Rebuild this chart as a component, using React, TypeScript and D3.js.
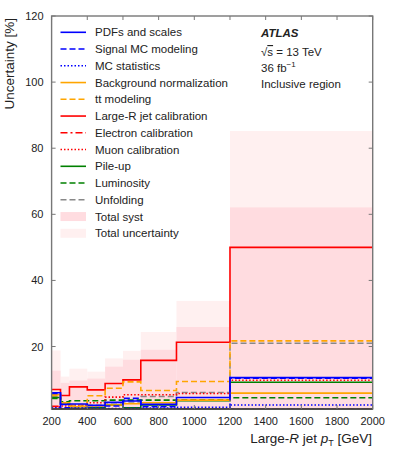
import React from "react";
import * as d3 from "d3";

// bin edges in GeV
const binEdges = [200, 250, 300, 400, 500, 600, 700, 900, 1200, 2000];

// uncertainties [%] per bin
const pdfScales = [6.0, 2.5, 2.6, 2.2, 3.1, 3.5, 2.5, 4.6, 10.6];
const signalMC = [5.8, 1.5, 1.2, 1.0, 2.0, 4.3, 1.8, 1.0, 10.4];
const mcStats = [1.5, 1.2, 1.4, 1.5, 1.2, 1.3, 1.4, 1.6, 2.3];
const bkgNorm = [5.4, 3.0, 1.8, 2.0, 2.3, 2.7, 3.0, 3.8, 5.9];
const ttModeling = [5.2, 2.6, 2.4, 5.1, 7.4, 9.3, 6.7, 9.4, 21.7];
const largeRJet = [7.0, 5.2, 7.8, 6.9, 8.8, 9.9, 15.8, 21.3, 50.0];
const electronCalib = [1.9, 1.0, 0.9, 0.9, 1.0, 0.9, 0.9, 1.0, 1.0];
const muonCalib = [1.8, 2.0, 2.3, 3.0, 4.7, 5.4, 5.4, 5.8, 9.8];
const pileUp = [4.6, 2.7, 1.8, 1.5, 2.3, 1.5, 2.3, 3.6, 9.2];
const luminosity = [4.3, 3.3, 3.6, 3.6, 3.8, 3.8, 3.8, 3.9, 4.5];
const unfolding = [4.8, 2.8, 2.0, 2.2, 3.0, 3.2, 4.9, 6.1, 21.0];
const totalSyst = [12.7, 9.0, 9.7, 10.3, 13.9, 16.0, 19.0, 25.9, 62.1];
const totalUnc = [18.8, 10.9, 13.3, 12.4, 16.4, 18.7, 24.4, 33.8, 85.2];

const xTicks = [200, 400, 600, 800, 1000, 1200, 1400, 1600, 1800, 2000];
const yTicks = [20, 40, 60, 80, 100, 120];

const FONT = "'Liberation Sans', Arial, sans-serif";

const series = [
  { name: "PDFs and scales", vals: pdfScales, color: "#0000ff", dash: "" },
  { name: "Signal MC modeling", vals: signalMC, color: "#0000ff", dash: "6,3" },
  { name: "MC statistics", vals: mcStats, color: "#0000ff", dash: "1.5,2" },
  { name: "Background normalization", vals: bkgNorm, color: "#ffa500", dash: "" },
  { name: "tt modeling", vals: ttModeling, color: "#ffa500", dash: "6,3" },
  { name: "Large-R jet calibration", vals: largeRJet, color: "#ff0000", dash: "" },
  { name: "Electron calibration", vals: electronCalib, color: "#ff0000", dash: "7,3,2,3" },
  { name: "Muon calibration", vals: muonCalib, color: "#ff0000", dash: "1.5,2" },
  { name: "Pile-up", vals: pileUp, color: "#008000", dash: "" },
  { name: "Luminosity", vals: luminosity, color: "#008000", dash: "6,3" },
  { name: "Unfolding", vals: unfolding, color: "#888888", dash: "6,3" },
];

const fills = [
  { name: "Total syst", color: "#ffdce0" },
  { name: "Total uncertainty", color: "#fff0f0" },
];

export default function App() {
  const left = 51.6, right = 372.7, top = 16, bottom = 409;
  const x = d3.scaleLinear().domain([200, 2000]).range([left, right]);
  const y = d3.scaleLinear().domain([1.1, 120]).range([bottom, top]);

  const stepLine = d3
    .line<[number, number]>()
    .x((d) => x(d[0]))
    .y((d) => y(d[1]))
    .curve(d3.curveStepAfter);

  const pts = (vals: number[]): [number, number][] => [
    ...vals.map((v, i) => [binEdges[i], v] as [number, number]),
    [binEdges[binEdges.length - 1], vals[vals.length - 1]],
  ];

  const bars = (vals: number[], color: string) =>
    vals.map((v, i) => (
      <rect
        key={i}
        x={x(binEdges[i])}
        width={x(binEdges[i + 1]) - x(binEdges[i])}
        y={y(v)}
        height={bottom - y(v)}
        fill={color}
      />
    ));

  const legX0 = 60.5, legX1 = 86, legTextX = 95, legY0 = 32.3, legDy = 16.75;

  return (
    <svg width={399} height={452} style={{ position: "absolute", left: 0, top: 0 }} fontFamily={FONT}>
      <defs>
        <clipPath id="plotArea">
          <rect x={left} y={top} width={right - left} height={bottom - top} />
        </clipPath>
      </defs>
      <rect width={399} height={452} fill="white" />
      <g clipPath="url(#plotArea)">
        <g>{bars(totalUnc, fills[1].color)}</g>
        <g>{bars(totalSyst, fills[0].color)}</g>
        {series
          .slice()
          .reverse()
          .map((s) => (
            <path
              key={s.name}
              d={stepLine(pts(s.vals)) || ""}
              fill="none"
              stroke={s.color}
              strokeWidth={1.6}
              strokeDasharray={s.dash}
            />
          ))}
      </g>

      {/* frame */}
      <rect x={left} y={top} width={right - left} height={bottom - top} fill="none" stroke="#777" strokeWidth={1.4} />
      <line x1={left} x2={right} y1={bottom} y2={bottom} stroke="#333" strokeWidth={1.4} />
      {xTicks.map((t) => (
        <g key={t}>
          <line x1={x(t)} x2={x(t)} y1={bottom} y2={bottom - 4} stroke="#777" />
          <line x1={x(t)} x2={x(t)} y1={top} y2={top + 4} stroke="#777" />
          <text x={x(t)} y={425} fontSize={11} textAnchor="middle" fill="#222">
            {t}
          </text>
        </g>
      ))}
      {yTicks.map((t) => (
        <g key={t}>
          <line x1={left} x2={left + 4} y1={y(t)} y2={y(t)} stroke="#777" />
          <line x1={right} x2={right - 4} y1={y(t)} y2={y(t)} stroke="#777" />
          <text x={43.5} y={y(t) + 4} fontSize={11} textAnchor="end" fill="#222">
            {t}
          </text>
        </g>
      ))}

      <text transform="translate(14,18) rotate(-90)" fontSize={13.5} textAnchor="end" fill="#222">
        Uncertainty [%]
      </text>
      <text x={372} y={443} fontSize={13.5} textAnchor="end" fill="#222">
        Large-<tspan fontStyle="italic">R</tspan> jet <tspan fontStyle="italic">p</tspan>
        <tspan fontSize={9} dy={3}>T</tspan>
        <tspan dy={-3}> [GeV]</tspan>
      </text>

      {/* legend */}
      {series.map((s, i) => (
        <g key={s.name}>
          <line
            x1={legX0}
            x2={legX1}
            y1={legY0 + i * legDy}
            y2={legY0 + i * legDy}
            stroke={s.color}
            strokeWidth={1.6}
            strokeDasharray={s.dash}
          />
          <text x={legTextX} y={legY0 + i * legDy + 4} fontSize={11.5} fill="#222">
            {s.name}
          </text>
        </g>
      ))}
      {fills.map((f, i) => {
        const yy = legY0 + (series.length + i) * legDy;
        return (
          <g key={f.name}>
            <rect x={legX0} y={yy - 4.5} width={legX1 - legX0} height={9} fill={f.color} />
            <text x={legTextX} y={yy + 4} fontSize={11.5} fill="#222">
              {f.name}
            </text>
          </g>
        );
      })}

      {/* ATLAS label */}
      <text x={261} y={36.5} fontSize={11.5} fontWeight="bold" fontStyle="italic" fill="#222">
        ATLAS
      </text>
      <text x={261} y={56} fontSize={11.5} fill="#222">
        √<tspan textDecoration="overline">s</tspan> = 13 TeV
      </text>
      <text x={261} y={72} fontSize={11.5} fill="#222">
        36 fb<tspan fontSize={8} dy={-5}>−1</tspan>
      </text>
      <text x={261} y={87.5} fontSize={11.5} fill="#222">
        Inclusive region
      </text>
    </svg>
  );
}
